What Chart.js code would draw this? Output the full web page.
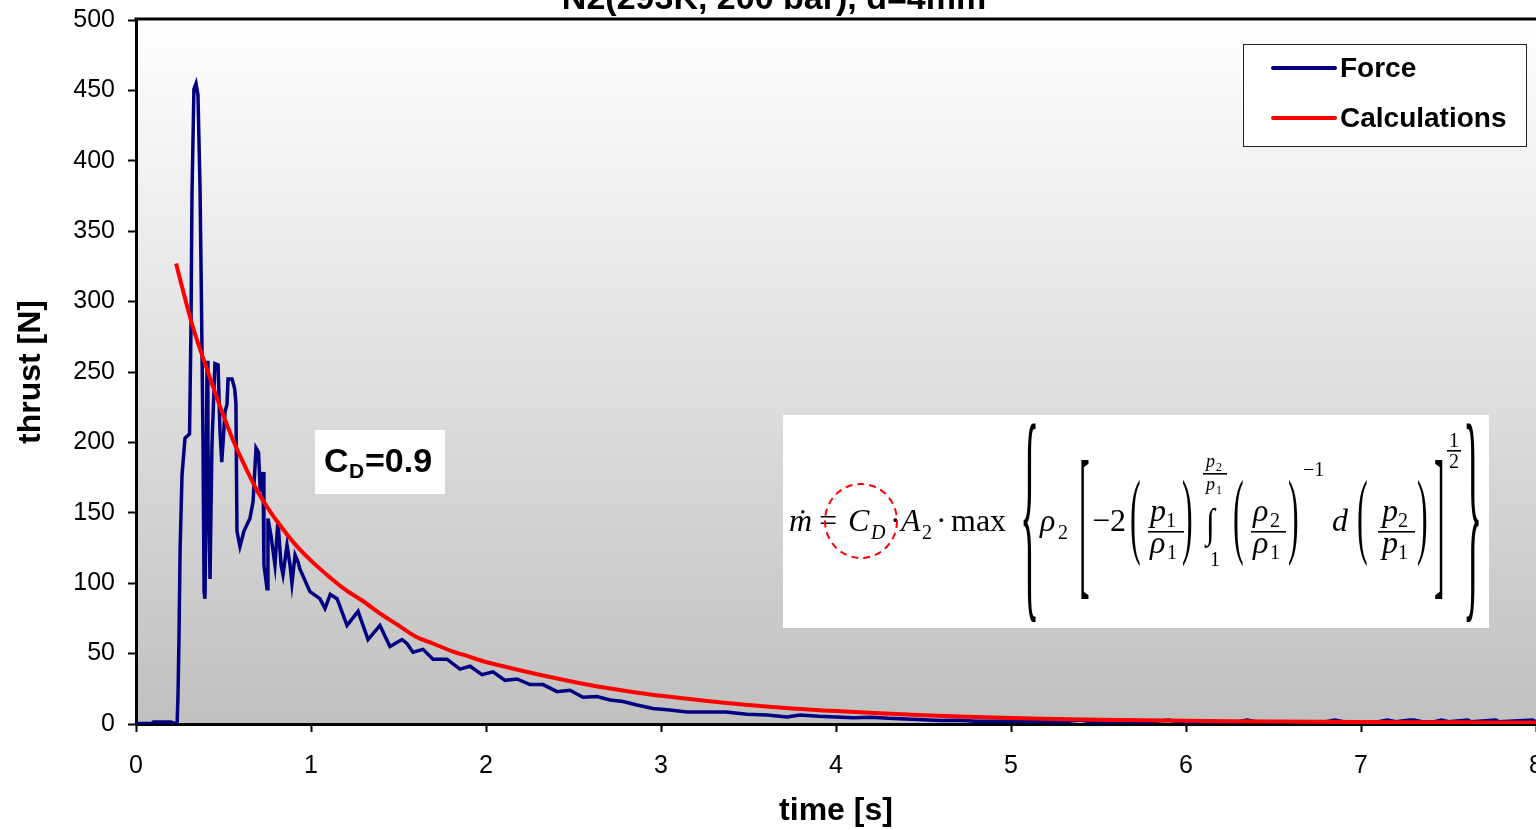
<!DOCTYPE html>
<html>
<head>
<meta charset="utf-8">
<script src="https://cdn.jsdelivr.net/npm/chart.js@4"></script>
<style>
  html, body { margin: 0; padding: 0; background: #fff; overflow: hidden; }
</style>
</head>
<body>
<canvas id="thrustChart" width="1536" height="830"></canvas>
<script>
const chartTitle = 'N2(293K, 200 bar), d=4mm';
const xTitle = 'time [s]';
const yTitle = 'thrust [N]';

const forceTime = [
  0, 0.09, 0.10, 0.20, 0.22, 0.235, 0.240, 0.246, 0.252, 0.263, 0.280, 0.306, 0.314, 0.320,
  0.331, 0.343, 0.354, 0.366, 0.374, 0.383, 0.389, 0.394, 0.400, 0.406, 0.411, 0.423, 0.434,
  0.451, 0.469, 0.480, 0.490, 0.509, 0.520, 0.526, 0.549, 0.564, 0.571, 0.577, 0.594, 0.617,
  0.651, 0.669, 0.686, 0.700, 0.710, 0.726, 0.731, 0.749, 0.754, 0.771, 0.794, 0.811, 0.829,
  0.840, 0.863, 0.880, 0.891, 0.909, 0.926, 0.937, 0.994, 1.051, 1.080, 1.110, 1.149, 1.206,
  1.269, 1.326, 1.394, 1.451, 1.520, 1.549, 1.583, 1.640, 1.697, 1.777, 1.851, 1.909, 1.977,
  2.040, 2.109, 2.177, 2.251, 2.326, 2.406, 2.480, 2.554, 2.634, 2.709, 2.783, 2.863, 2.954,
  3.051, 3.149, 3.260, 3.370, 3.491, 3.606, 3.720, 3.794, 3.900, 4.000, 4.100, 4.200, 4.300,
  4.400, 4.500, 4.600, 4.700, 4.800, 5.000, 5.300, 5.400, 5.450, 5.800, 5.900, 5.950, 6.300,
  6.350, 6.400, 6.800, 6.850, 6.900, 7.100, 7.150, 7.200, 7.280, 7.300, 7.350, 7.420, 7.460,
  7.500, 7.610, 7.630, 7.770, 7.790, 7.980, 8.000
];
const forceValues = [
  0.3, 0.3, 1.5, 1.5, 0.5, 0.5, 20, 64, 124, 177, 203, 206, 280, 376,
  451, 455, 447, 380, 300, 200, 94, 89, 150, 258, 200, 103, 198,
  256, 255, 208, 186, 222, 227, 245, 245, 238, 228, 137, 126, 137,
  146, 158, 196, 193, 165, 179, 113, 96, 146, 134, 113, 144, 113,
  106, 127, 113, 100, 120, 115, 110, 94, 89, 82, 92, 89, 70,
  80, 60, 70, 55, 60, 57, 51, 53, 46, 46, 39, 41, 35,
  37, 31, 32, 28, 28, 23, 24, 19, 19.5, 17, 16, 13.5, 11,
  10, 8.5, 8.5, 8.5, 7, 6.4, 5, 6.4, 5.5, 5, 4.5, 4.8, 4,
  3.5, 3, 2.5, 2.6, 2, 2, 1.6, 2.8, 1.6, 1.6, 2.8, 1.6, 1.6,
  2.8, 1.6, 1.6, 2.8, 1.6, 1.6, 2.8, 1.6, 2.8, 2.8, 1.6, 1.6, 2.8,
  1.6, 2.8, 1.6, 2.8, 1.6, 2.8, 1.6
];

// calculated thrust
const calcTime = [
  0.229, 0.26, 0.30, 0.34, 0.40, 0.45, 0.50, 0.55, 0.60, 0.65, 0.70, 0.75, 0.80, 0.90,
  1.00, 1.10, 1.20, 1.30, 1.40, 1.50, 1.60, 1.70, 1.80, 1.90, 2.00, 2.20, 2.40, 2.60,
  2.80, 3.00, 3.25, 3.50, 3.75, 4.00, 4.50, 5.00, 5.50, 6.00, 6.50, 7.00, 7.50, 8.00
];
const calcValues = [
  327, 312, 293, 276, 254, 236, 219, 203, 189, 176, 164, 154, 145, 129,
  116, 105, 95, 87, 78, 70, 62, 57, 52, 48, 44, 38, 32.5, 27.5,
  23.5, 20, 16.5, 13.5, 11, 9.2, 6.3, 4.3, 3.1, 2.3, 1.8, 1.4, 1.2, 1.0
];

const xTicks = [0, 1, 2, 3, 4, 5, 6, 7, 8];
const yTicks = [0, 50, 100, 150, 200, 250, 300, 350, 400, 450, 500];

const sans = '"Liberation Sans", Arial, sans-serif';
const serif = '"Liberation Serif", "Times New Roman", serif';

// grey gradient behind the plot + top frame line
const backgroundPlugin = {
  id: 'plotBackground',
  beforeDraw(chart) {
    const { ctx, chartArea: a } = chart;
    const g = ctx.createLinearGradient(0, a.top, 0, a.bottom);
    g.addColorStop(0, '#ffffff');
    g.addColorStop(1, '#c0c0c0');
    ctx.save();
    ctx.fillStyle = g;
    ctx.fillRect(a.left, a.top, a.right - a.left, a.bottom - a.top);
    ctx.restore();
  },
  afterDraw(chart) {
    const { ctx, chartArea: a } = chart;
    ctx.save();
    ctx.strokeStyle = '#000';
    ctx.lineWidth = 3;
    ctx.beginPath();
    ctx.moveTo(a.left - 1.5, a.top - 1);
    ctx.lineTo(a.right, a.top - 1);
    ctx.stroke();
    // title, cut off at the top edge as in the source
    ctx.fillStyle = '#000';
    ctx.font = 'bold 34px ' + sans;
    ctx.textAlign = 'center';
    ctx.textBaseline = 'alphabetic';
    ctx.fillText(chartTitle, 774, 9);
    ctx.restore();
  }
};

const legendPlugin = {
  id: 'boxLegend',
  afterDraw(chart) {
    const { ctx } = chart;
    ctx.save();
    ctx.fillStyle = '#fff';
    ctx.fillRect(1243, 44, 283, 102);
    ctx.strokeStyle = '#222';
    ctx.lineWidth = 1;
    ctx.strokeRect(1243.5, 44.5, 283, 102);
    ctx.font = 'bold 28px ' + sans;
    ctx.textBaseline = 'middle';
    ctx.textAlign = 'left';
    chart.data.datasets.forEach((ds, i) => {
      const y = 68 + i * 50;
      ctx.strokeStyle = ds.borderColor;
      ctx.lineWidth = 4;
      ctx.lineCap = 'round';
      ctx.beginPath();
      ctx.moveTo(1273, y);
      ctx.lineTo(1335, y);
      ctx.stroke();
      ctx.fillStyle = '#000';
      ctx.fillText(ds.label, 1340, y + 1);
    });
    ctx.restore();
  }
};

function txt(ctx, s, x, y, size, italic) {
  ctx.font = (italic ? 'italic ' : '') + size + 'px ' + serif;
  ctx.fillText(s, x, y);
}

function tallGlyph(ctx, ch, x, top, bottom, size) {
  ctx.font = size + 'px ' + serif;
  const m = ctx.measureText(ch);
  const h = m.actualBoundingBoxAscent + m.actualBoundingBoxDescent;
  const s = (bottom - top) / h;
  ctx.save();
  ctx.translate(x, top);
  ctx.scale(1, s);
  ctx.fillText(ch, 0, m.actualBoundingBoxAscent);
  ctx.restore();
}

function fracBar(ctx, x1, x2, y) {
  ctx.fillRect(x1, y, x2 - x1, 1.6);
}

const notesPlugin = {
  id: 'notes',
  afterDatasetsDraw(chart) {
    const ctx = chart.ctx;
    ctx.save();
    // C_D label
    ctx.fillStyle = '#fff';
    ctx.fillRect(315, 430, 130, 64);
    ctx.fillStyle = '#000';
    ctx.textAlign = 'left';
    ctx.textBaseline = 'alphabetic';
    ctx.font = 'bold 34px ' + sans;
    ctx.fillText('C', 324, 472);
    ctx.font = 'bold 21px ' + sans;
    ctx.fillText('D', 349, 478);
    ctx.font = 'bold 34px ' + sans;
    ctx.fillText('=0.9', 365, 472);

    // mass flow formula
    ctx.fillStyle = '#fff';
    ctx.fillRect(783, 415, 706, 213);
    ctx.fillStyle = '#000';
    const b = 531;
    txt(ctx, 'ṁ', 789, b, 32, true);
    txt(ctx, '=', 819, b, 32, false);
    txt(ctx, 'C', 848, b, 32, true);
    txt(ctx, 'D', 871, b + 8, 20, true);
    txt(ctx, '·', 890, b, 32, false);
    txt(ctx, 'A', 901, b, 32, true);
    txt(ctx, '2', 922, b + 8, 20, false);
    txt(ctx, '·', 936, b, 32, false);
    txt(ctx, 'max', 951, b, 32, false);
    tallGlyph(ctx, '{', 1020, 423, 620, 40);
    txt(ctx, 'ρ', 1040, b, 32, true);
    txt(ctx, '2', 1058, b + 8, 20, false);
    tallGlyph(ctx, '[', 1079, 457, 598, 32);
    txt(ctx, '−2', 1092, b, 32, false);
    tallGlyph(ctx, '(', 1130, 477, 567, 32);
    txt(ctx, 'p', 1150, 521, 32, true);
    txt(ctx, '1', 1166, 527, 20, false);
    fracBar(ctx, 1148, 1184, 531);
    txt(ctx, 'ρ', 1150, 553, 32, true);
    txt(ctx, '1', 1167, 559, 20, false);
    tallGlyph(ctx, ')', 1182, 477, 567, 32);
    tallGlyph(ctx, '∫', 1206, 508, 549, 32);
    txt(ctx, 'p', 1206, 467, 18, true);
    txt(ctx, '2', 1216, 471, 12, false);
    fracBar(ctx, 1203, 1227, 473);
    txt(ctx, 'p', 1206, 490, 18, true);
    txt(ctx, '1', 1216, 494, 12, false);
    txt(ctx, '1', 1210, 566, 20, false);
    tallGlyph(ctx, '(', 1233, 477, 567, 32);
    txt(ctx, 'ρ', 1253, 521, 32, true);
    txt(ctx, '2', 1270, 527, 20, false);
    fracBar(ctx, 1251, 1286, 531);
    txt(ctx, 'ρ', 1253, 553, 32, true);
    txt(ctx, '1', 1270, 559, 20, false);
    tallGlyph(ctx, ')', 1288, 477, 567, 32);
    txt(ctx, '−1', 1303, 476, 20, false);
    txt(ctx, 'd', 1332, b, 32, true);
    tallGlyph(ctx, '(', 1357, 477, 567, 32);
    txt(ctx, 'p', 1382, 521, 32, true);
    txt(ctx, '2', 1398, 527, 20, false);
    fracBar(ctx, 1378, 1415, 531);
    txt(ctx, 'p', 1382, 553, 32, true);
    txt(ctx, '1', 1398, 559, 20, false);
    tallGlyph(ctx, ')', 1417, 477, 567, 32);
    tallGlyph(ctx, ']', 1434, 457, 598, 32);
    txt(ctx, '1', 1449, 447, 20, false);
    fracBar(ctx, 1447, 1461, 450);
    txt(ctx, '2', 1449, 468, 20, false);
    tallGlyph(ctx, '}', 1463, 423, 620, 40);

    // dashed ring round C_D
    ctx.strokeStyle = '#ff0000';
    ctx.lineWidth = 2;
    ctx.setLineDash([7, 5]);
    ctx.beginPath();
    ctx.ellipse(861, 521, 36, 37, 0, 0, Math.PI * 2);
    ctx.stroke();
    ctx.restore();
  }
};

new Chart(document.getElementById('thrustChart'), {
  type: 'line',
  data: {
    datasets: [
      {
        label: 'Force',
        data: forceTime.map((t, i) => ({ x: t, y: forceValues[i] })),
        borderColor: '#000080',
        borderWidth: 3.5,
        pointRadius: 0,
        tension: 0,
        fill: false,
        order: 1
      },
      {
        label: 'Calculations',
        data: calcTime.map((t, i) => ({ x: t, y: calcValues[i] })),
        borderColor: '#ff0000',
        borderWidth: 4,
        pointRadius: 0,
        tension: 0.3,
        fill: false,
        order: 0
      }
    ]
  },
  options: {
    responsive: false,
    animation: false,
    events: [],
    layout: { padding: { top: 20, right: 0, bottom: 0, left: 0 } },
    plugins: {
      legend: { display: false },
      tooltip: { enabled: false },
      title: { display: false }
    },
    scales: {
      x: {
        type: 'linear',
        min: 0,
        max: 8,
        afterBuildTicks: s => { s.ticks = xTicks.map(v => ({ value: v })); },
        afterFit: s => { s.height = 106; s.paddingLeft = 0; s.paddingRight = 0; },
        ticks: { color: '#000', font: { family: sans, size: 25 }, padding: 19, maxRotation: 0 },
        grid: { drawOnChartArea: false, drawTicks: true, tickLength: 8, color: '#000', tickWidth: 2 },
        border: { display: true, color: '#000', width: 3 },
        title: { display: true, text: xTitle, color: '#000', font: { family: sans, size: 32, weight: 'bold' }, padding: { top: 0, bottom: 0 } }
      },
      y: {
        min: 0,
        max: 500,
        afterBuildTicks: s => { s.ticks = yTicks.map(v => ({ value: v })); },
        afterFit: s => { s.width = 136; s.paddingTop = 0; s.paddingBottom = 0; },
        ticks: { color: '#000', font: { family: sans, size: 25 }, padding: 13 },
        grid: { drawOnChartArea: false, drawTicks: true, tickLength: 8, color: '#000', tickWidth: 2 },
        border: { display: true, color: '#000', width: 3 },
        title: { display: true, text: yTitle, color: '#000', font: { family: sans, size: 32, weight: 'bold' }, padding: { top: 12, bottom: 0 } }
      }
    }
  },
  plugins: [backgroundPlugin, notesPlugin, legendPlugin]
});
</script>
</body>
</html>
